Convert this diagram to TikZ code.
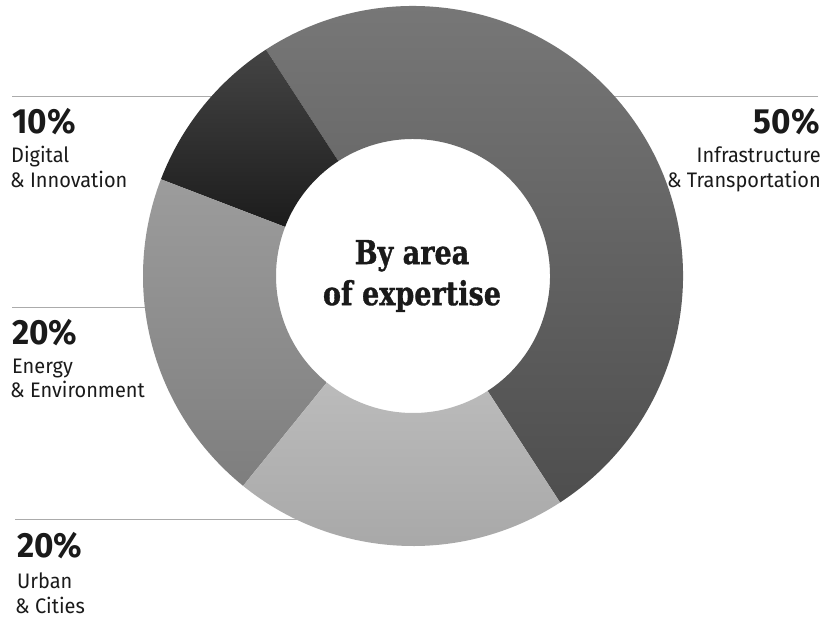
\documentclass[tikz,border=0pt]{standalone}
\usepackage{fontspec}
\setmainfont{Fira Sans}
\newfontfamily\labfont{Fira Sans}[FakeStretch=0.95]
\newfontfamily\pctfont{Fira Sans}[FakeStretch=0.95]
\newfontfamily\slabfont{DejaVu Serif}[FakeStretch=0.82, BoldFeatures={FakeBold=1}]
\usetikzlibrary{calc}
\definecolor{lineg}{HTML}{ABABAB}
\definecolor{txt}{HTML}{1A1A1A}
\definecolor{aT}{HTML}{7A7A7A}\definecolor{aB}{HTML}{4E4E4E}
\definecolor{bT}{HTML}{444444}\definecolor{bB}{HTML}{1C1C1C}
\definecolor{cT}{HTML}{9C9C9C}\definecolor{cB}{HTML}{7E7E7E}
\definecolor{dT}{HTML}{BBBBBB}\definecolor{dB}{HTML}{A6A6A6}
\tikzset{
  pct/.style={font=\pctfont\bfseries\fontsize{35}{35}\selectfont, text=txt, inner sep=0pt},
  lab/.style={font=\labfont\fontsize{21}{21}\selectfont, text=txt, inner sep=0pt},
  leader/.style={draw=lineg, line width=1pt},
}
\newcommand{\ringseg}[5]{% th1, th2, top color, bottom color, center
  \path[top color=#3, bottom color=#4, draw=none]
    ($(#5)+(-#1:270)$) arc[start angle=-#1, end angle=-#2, radius=270]
    -- ($(#5)+(-#2:137)$) arc[start angle=-#2, end angle=-#1, radius=137] -- cycle;}
\begin{document}
\begin{tikzpicture}[x=1pt,y=-1pt]
\useasboundingbox[fill=white] (0,0) rectangle (826,619);
\coordinate (c) at (413,276);
% leader lines (under the ring)
\coordinate (l1a) at (12,96);  \coordinate (l1b) at (260,96);
\coordinate (r1a) at (818,96); \coordinate (r1b) at (580,96);
\coordinate (l2a) at (12,307); \coordinate (l2b) at (170,307);
\coordinate (l3a) at (15,519); \coordinate (l3b) at (320,519);
\draw[leader] (l1a) -- (l1b);
\draw[leader] (r1a) -- (r1b);
\draw[leader] (l2a) -- (l2b);
\draw[leader] (l3a) -- (l3b);
% ring
\ringseg{-57}{123}{aT}{aB}{c}
\ringseg{123}{159}{bT}{bB}{c}
\ringseg{159}{231}{cT}{cB}{c}
\ringseg{231}{303}{dT}{dB}{c}
% centre
\node[font=\slabfont\bfseries\fontsize{33}{41}\selectfont, text=txt, align=center, inner sep=0pt] (title) at (412,276) {By area\\of expertise};
% labels
\node[pct, anchor=base west] (p1) at (12,133) {10\%};
\node[lab, anchor=base west] (d1) at (11,162) {Digital};
\node[lab, anchor=base west] (d2) at (10,187) {\& Innovation};
\node[pct, anchor=base east] (p2) at (820,133) {50\%};
\node[lab, anchor=base east] (i1) at (821,162) {Infrastructure};
\node[lab, anchor=base east] (i2) at (821,187) {\& Transportation};
\node[pct, anchor=base west] (p3) at (12,344) {20\%};
\node[lab, anchor=base west] (e1) at (12,373) {Energy};
\node[lab, anchor=base west] (e2) at (10,397) {\& Environment};
\node[pct, anchor=base west] (p4) at (17,557) {20\%};
\node[lab, anchor=base west] (u1) at (17,588) {Urban};
\node[lab, anchor=base west] (u2) at (15,613) {\& Cities};
\end{tikzpicture}
\end{document}
